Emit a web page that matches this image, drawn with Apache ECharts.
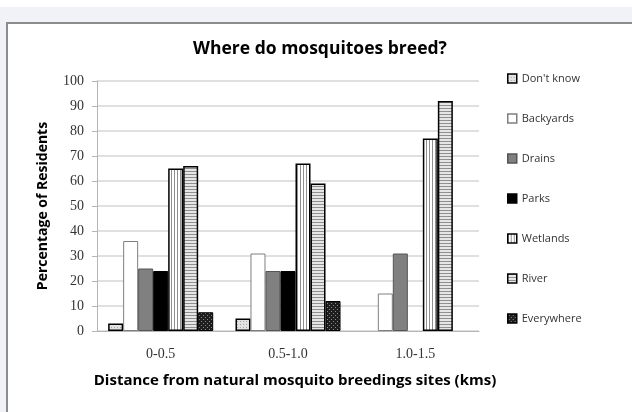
<!DOCTYPE html>
<html>
<head>
<meta charset="utf-8">
<script src="https://cdn.jsdelivr.net/npm/echarts@6/dist/echarts.min.js"></script>
<style>
  body { margin: 0; width: 632px; height: 412px; overflow: hidden; background: #fff; position: relative; }
  #band { position: absolute; left: 0; top: 7px; width: 632px; height: 405px; background: #f1f2f7; }
  #box { position: absolute; left: 6px; top: 22px; width: 700px; height: 500px; background: #fff;
         border-left: 2px solid #8c8c8c; border-top: 2px solid #8c8c8c; }
  #main { position: absolute; left: 0; top: 0; width: 632px; height: 412px; }
</style>
</head>
<body>
<div id="band"></div>
<div id="box"></div>
<div id="main"></div>
<script>
  // data
  const categories = ['0-0.5', '0.5-1.0', '1.0-1.5']
  const dontKnow = [3, 5, null]
  const backyards = [36, 31, 15]
  const drains = [25, 24, 31]
  const parks = [24, 24, null]
  const wetlands = [65, 67, 77]
  const river = [66, 59, 92]
  const everywhere = [7.5, 12, null]

  // small canvas fills to mimic the excel patterns
  function pattern(w, h, bg, fg, pts) {
    let c = document.createElement('canvas')
    c.width = w
    c.height = h
    let ctx = c.getContext('2d')
    ctx.fillStyle = bg
    ctx.fillRect(0, 0, w, h)
    ctx.fillStyle = fg
    pts.forEach(p => ctx.fillRect(p[0], p[1], p[2], p[3]))
    return { image: c, repeat: 'repeat' }
  }
  const dotsLight = pattern(3, 3, '#e2e2e2', '#a6a6a6', [[0, 0, 1, 1]])
  const vStripes = pattern(3, 1, '#ffffff', '#8f8f8f', [[0, 0, 1, 1]])
  const hStripes = pattern(1, 3, '#e6e6e6', '#8f8f8f', [[0, 0, 1, 1]])
  const dotsDark = pattern(4, 4, '#1e1e1e', '#8a8a8a', [[1, 1, 1, 1], [3, 3, 1, 1]])

  const styles = [
    ["Don't know", dontKnow, dotsLight, '#000', 1.5],
    ['Backyards', backyards, '#ffffff', '#7f7f7f', 1],
    ['Drains', drains, '#808080', '#555', 1],
    ['Parks', parks, '#000', '#000', 1],
    ['Wetlands', wetlands, vStripes, '#000', 1.5],
    ['River', river, hStripes, '#000', 1.5],
    ['Everywhere', everywhere, dotsDark, '#000', 1]
  ]

  let chart = echarts.init(document.getElementById('main'))
  chart.setOption({
    animation: false,
    title: {
      text: 'Where do mosquitoes breed?',
      left: 315,
      textAlign: 'center',
      top: 35,
      textStyle: { fontFamily: 'Open Sans', fontWeight: 'bold', fontSize: 17.5, color: '#000' }
    },
    legend: {
      orient: 'vertical',
      left: 502,
      top: 68,
      itemWidth: 9,
      itemHeight: 9,
      itemGap: 29,
      icon: 'rect',
      data: styles.map(s => ({
        name: s[0],
        itemStyle: { color: s[2], borderColor: s[3], borderWidth: 1.5 }
      })),
      textStyle: { fontFamily: 'Open Sans', fontSize: 11, color: '#333' }
    },
    grid: { left: 97, right: 153, top: 81, bottom: 81 },
    xAxis: {
      type: 'category',
      data: categories,
      name: 'Distance from natural mosquito breedings sites (kms)',
      nameLocation: 'middle',
      nameGap: 42,
      nameTextStyle: { fontFamily: 'Open Sans', fontWeight: 'bold', fontSize: 15, color: '#000', padding: [0, 0, 0, 14] },
      axisLine: { lineStyle: { color: '#b5b5b5' } },
      axisTick: { length: 4, lineStyle: { color: '#b5b5b5' } },
      axisLabel: { margin: 16, fontFamily: 'Liberation Serif', fontSize: 14, color: '#333' }
    },
    yAxis: {
      type: 'value',
      min: 0,
      max: 100,
      interval: 10,
      name: 'Percentage of Residents',
      nameLocation: 'middle',
      nameGap: 47,
      nameTextStyle: { fontFamily: 'Open Sans', fontWeight: 'bold', fontSize: 14, color: '#000' },
      axisLine: { show: true, lineStyle: { color: '#b5b5b5' } },
      axisTick: { show: true, length: 5, lineStyle: { color: '#b5b5b5' } },
      axisLabel: { margin: 13, fontFamily: 'Liberation Serif', fontSize: 14, color: '#333' },
      splitLine: { lineStyle: { color: '#d6d6d6', width: 1.5 } }
    },
    series: styles.map(s => ({
      name: s[0],
      type: 'bar',
      data: s[1],
      barGap: 0,
      barCategoryGap: '17.5%',
      itemStyle: { color: s[2], borderColor: s[3], borderWidth: s[4] }
    }))
  })
</script>
</body>
</html>
